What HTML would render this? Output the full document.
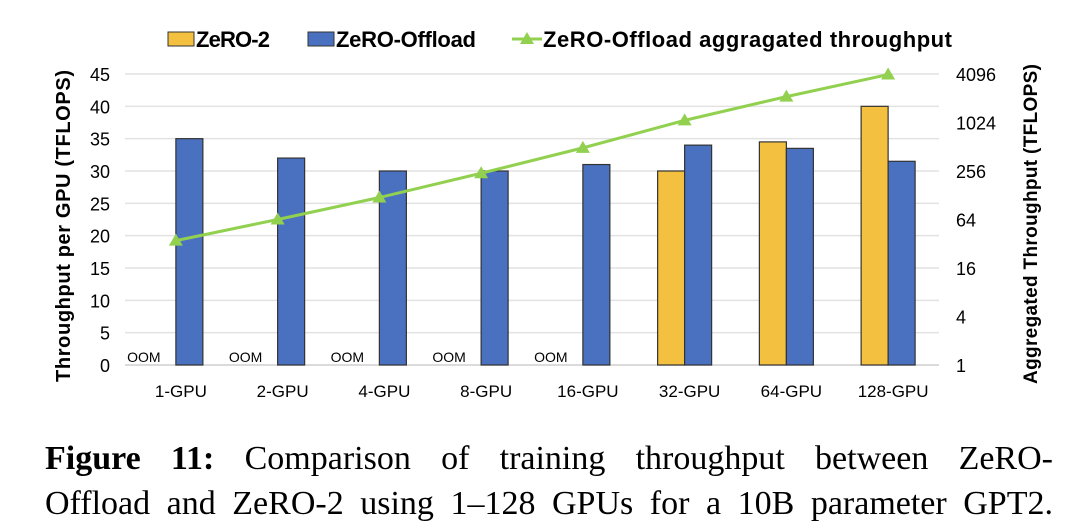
<!DOCTYPE html>
<html><head><meta charset="utf-8"><style>
body{margin:0;background:#fff;width:1080px;height:530px;overflow:hidden;position:relative}
.cap{position:absolute;left:45px;width:1008px;font-family:"Liberation Serif",serif;font-size:34px;text-align:justify;text-align-last:justify;color:#000;white-space:nowrap}
</style></head><body>
<svg id="chart" width="1080" height="420" style="position:absolute;left:0;top:0" font-family="Liberation Sans, sans-serif">
<g id="grid"></g><g id="bars"></g><g id="line"></g><g id="labels"></g>
<g font-weight="bold" font-size="22">
 <rect x="168" y="32" width="26" height="14" fill="#f4c040" stroke="#333"/>
 <text x="196" y="47" textLength="74">ZeRO-2</text>
 <rect x="308" y="32" width="26" height="14" fill="#4a70c0" stroke="#333"/>
 <text x="336" y="47" textLength="140">ZeRO-Offload</text>
 <line x1="512" y1="39" x2="542" y2="39" stroke="#92d050" stroke-width="3"/>
 <polygon points="527,32 534,44 520,44" fill="#92d050"/>
 <text x="543" y="47" textLength="409">ZeRO-Offload aggragated throughput</text>
</g>
<text transform="translate(70,226) rotate(-90)" text-anchor="middle" font-weight="bold" font-size="20" textLength="312">Throughput per GPU (TFLOPS)</text>
<text transform="translate(1037,224) rotate(-90)" text-anchor="middle" font-weight="bold" font-size="19" textLength="320">Aggregated Throughput (TFLOPS)</text>
</svg>
<div class="cap" style="top:440px"><b>Figure 11:</b> Comparison of training throughput between ZeRO-</div>
<div class="cap" style="top:485px">Offload and ZeRO-2 using 1–128 GPUs for a 10B parameter GPT2.</div>
<script>
const categories=["1-GPU","2-GPU","4-GPU","8-GPU","16-GPU","32-GPU","64-GPU","128-GPU"];
const zero2=[null,null,null,null,null,30,34.5,40];
const offload=[35,32,30,30,31,34,33.5,31.5];
const aggregated=[35,64,120,240,496,1088,2144,4032];
const leftTicks=[0,5,10,15,20,25,30,35,40,45];
const rightTicks=[1,4,16,64,256,1024,4096];
const NS="http://www.w3.org/2000/svg";
const X0=125,X1=939,Y0=365,Y1=74,BW=27;
const gw=(X1-X0)/categories.length;
const cx=i=>X0+(i+0.5)*gw;
const yL=v=>Y0-(v/45)*(Y0-Y1);
const yR=v=>Y0-(Math.log2(v)/12)*(Y0-Y1);
function mk(tag,attrs,parent,txt){const e=document.createElementNS(NS,tag);for(const k in attrs)e.setAttribute(k,attrs[k]);if(txt!==undefined)e.textContent=txt;document.getElementById(parent).appendChild(e);return e;}
leftTicks.forEach(t=>{
 const l=mk("line",{x1:X0,x2:X1,y1:yL(t),y2:yL(t),stroke:t===0?"#cfcfcf":"#e2e2e2","stroke-width":1.5},"grid");
 
 
 const tx=mk("text",{x:110,y:yL(t)+7,"text-anchor":"end","font-size":18},"labels",t);
 
 
});
rightTicks.forEach(t=>{
 const tx=mk("text",{x:956,y:yR(t)+7,"font-size":18},"labels",t);
 
 
});
categories.forEach((c,i)=>{
 const tx=mk("text",{x:cx(i)+5,y:397,"text-anchor":"middle","font-size":17},"labels",c);
 
 
 if(zero2[i]!==null){
  const r=mk("rect",{x:cx(i)-BW,y:yL(zero2[i]),width:BW,height:Y0-yL(zero2[i]),fill:"#f4c040",stroke:"#333","stroke-width":1.2},"bars");
  
  
 } else {
  const o=mk("text",{x:cx(i)-32,y:362,"text-anchor":"middle","font-size":14},"labels","OOM");
  
  
 }
 const b=mk("rect",{x:cx(i),y:yL(offload[i]),width:BW,height:Y0-yL(offload[i]),fill:"#4a70c0",stroke:"#333","stroke-width":1.2},"bars");
 
 
});
const pts=aggregated.map((v,i)=>[cx(i),yR(v)]);
const pl=mk("polyline",{points:pts.map(p=>p.join(",")).join(" "),fill:"none",stroke:"#92d050","stroke-width":3},"line");


pts.forEach(p=>{
 const m=mk("polygon",{points:`${p[0]},${p[1]-7} ${p[0]+7},${p[1]+5} ${p[0]-7},${p[1]+5}`,fill:"#92d050"},"line");
 
 
});
</script>
</body></html>
